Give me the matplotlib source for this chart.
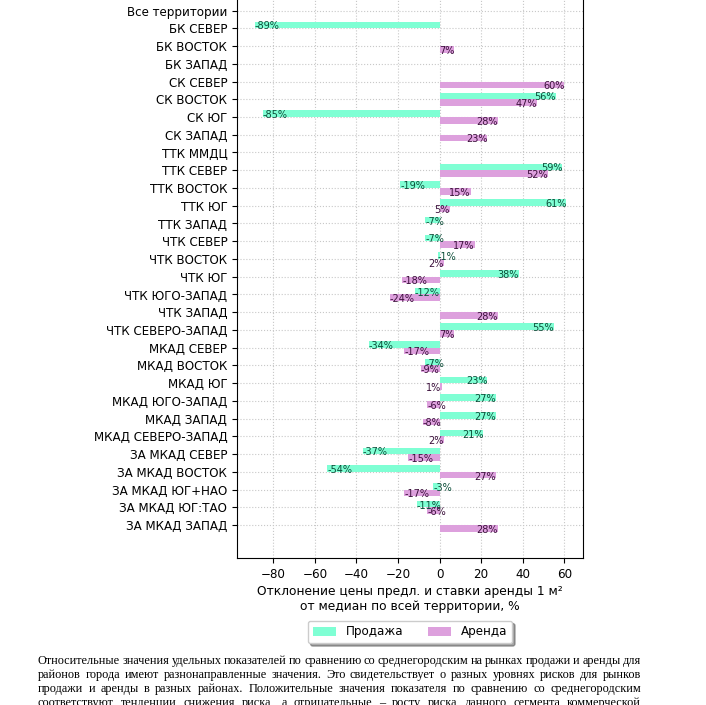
import numpy as np
import matplotlib.pyplot as plt

nan = np.nan

regions = ['Все территории', 'БК СЕВЕР', 'БК ВОСТОК', 'БК ЗАПАД', 'СК СЕВЕР',
           'СК ВОСТОК', 'СК ЮГ', 'СК ЗАПАД', 'ТТК ММДЦ', 'ТТК СЕВЕР',
           'ТТК ВОСТОК', 'ТТК ЮГ', 'ТТК ЗАПАД', 'ЧТК СЕВЕР', 'ЧТК ВОСТОК',
           'ЧТК ЮГ', 'ЧТК ЮГО-ЗАПАД', 'ЧТК ЗАПАД', 'ЧТК СЕВЕРО-ЗАПАД', 'МКАД СЕВЕР',
           'МКАД ВОСТОК', 'МКАД ЮГ', 'МКАД ЮГО-ЗАПАД', 'МКАД ЗАПАД', 'МКАД СЕВЕРО-ЗАПАД',
           'ЗА МКАД СЕВЕР', 'ЗА МКАД ВОСТОК', 'ЗА МКАД ЮГ+НАО', 'ЗА МКАД ЮГ:ТАО', 'ЗА МКАД ЗАПАД']

# отклонение цены продажи, %
sale = [nan, -89, nan, nan, nan,
        56, -85, nan, nan, 59,
        -19, 61, -7, -7, -1,
        38, -12, nan, 55, -34,
        -7, 23, 27, 27, 21,
        -37, -54, -3, -11, nan]

# отклонение ставки аренды, %
rent = [nan, nan, 7, nan, 60,
        47, 28, 23, nan, 52,
        15, 5, nan, 17, 2,
        -18, -24, 28, 7, -17,
        -9, 1, -6, -8, 2,
        -15, 27, -17, -6, 28]

paragraph = [
    'Относительные значения удельных показателей по сравнению со среднегородским на рынках продажи и аренды для',
    'районов города имеют разнонаправленные значения. Это свидетельствует о разных уровнях рисков для рынков',
    'продажи и аренды в разных районах. Положительные значения показателя по сравнению со среднегородским',
    'соответствуют тенденции снижения риска, а отрицательные – росту риска данного сегмента коммерческой',
]

W, H = 706, 705
fig = plt.figure(figsize=(W / 100, H / 100), dpi=100)
ax = fig.add_axes([237 / W, (H - 558) / H, 346 / W, 580.3 / H])

y = np.arange(len(regions))
h = 0.37
ax.barh(y - h / 2, sale, height=h, color='#7fffd4', label='Продажа', zorder=2)
ax.barh(y + h / 2, rent, height=h, color='#dda0dd', label='Аренда', zorder=2)

for vals, off, col in [(sale, -h / 2, '#0b4d38'), (rent, h / 2, '#3c103c')]:
    for i, v in enumerate(vals):
        if np.isnan(v):
            continue
        ax.text(v, i + off + 0.08, '%d%%' % v, fontsize=7, color=col,
                ha='right' if v > 0 else 'left', va='center', zorder=3)

ax.set_yticks(y)
ax.set_yticklabels(regions)
ax.set_ylim(30.85, -1.85)
ax.set_xlim(-97.5, 69)
ax.set_xticks([-80, -60, -40, -20, 0, 20, 40, 60])
ax.tick_params(labelsize=8.6)
ax.grid(True, linestyle=':', color='#c8c8c8', linewidth=0.8, zorder=0)
ax.set_axisbelow(True)
ax.set_xlabel('Отклонение цены предл. и ставки аренды 1 м²\nот медиан по всей территории, %',
              fontsize=8.8, labelpad=3)

fig.legend(loc='center', bbox_to_anchor=(410 / W, 1 - 632 / H), ncol=2,
           fontsize=8.6, shadow=True, fancybox=True)

# абзац текста под графиком, выровненный по ширине
r = fig.canvas.get_renderer()
x0, x1 = 38, 641
for k, line in enumerate(paragraph):
    words = line.split(' ')
    yy = 1 - (661 + k * 14) / H
    texts = [fig.text(0, yy, w_, fontsize=8.85, family='Liberation Serif', va='center')
             for w_ in words]
    widths = [t.get_window_extent(r).width for t in texts]
    gap = (x1 - x0 - sum(widths)) / (len(words) - 1)
    xx = x0
    for t, w_ in zip(texts, widths):
        t.set_x(xx / W)
        xx += w_ + gap

fig.savefig('out.png', dpi=100)
